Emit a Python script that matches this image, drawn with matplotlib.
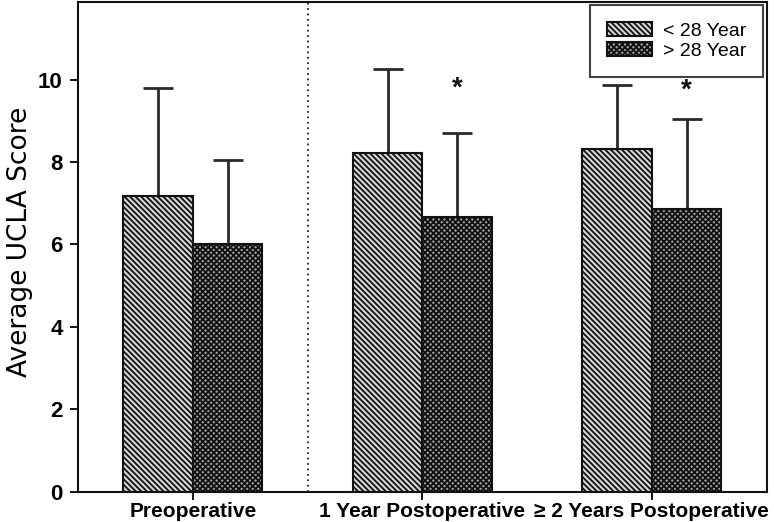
import matplotlib
matplotlib.use("Agg")
import matplotlib.pyplot as plt
import numpy as np

categories = ["Preoperative", "1 Year Postoperative", "\u2265 2 Years Postoperative"]
series_names = ["< 28 Year", "> 28 Year"]
young_mean = [7.17, 8.22, 8.31]
young_sd = [2.64, 2.03, 1.56]
old_mean = [6.0, 6.67, 6.87]
old_sd = [2.06, 2.04, 2.17]
star_groups = [1, 2]
star_y = [9.79, 9.73]
yticks = [0, 2, 4, 6, 8, 10]

plt.rcParams['font.family'] = ['Liberation Sans', 'DejaVu Sans']
plt.rcParams['hatch.linewidth'] = 1.3

fig = plt.figure(figsize=(7.74, 5.22), dpi=100)
ax = fig.add_axes([78/774, 1 - 491.5/522, (766.7-78)/774, (491.5-1.5)/522])

x = np.arange(len(categories))
w = 0.303
b1 = ax.bar(x - w/2, young_mean, w, facecolor='#d6d6d6', edgecolor='#111111',
            hatch='\\' * 6, linewidth=1.5, label=series_names[0], zorder=2)
b2 = ax.bar(x + w/2, old_mean, w, facecolor='#a0a0a0', edgecolor='#111111',
            hatch='x' * 6, linewidth=1.5, label=series_names[1], zorder=2)

ax.errorbar(x - w/2, young_mean, yerr=[np.zeros(3), young_sd], fmt='none',
            ecolor='#2a2a2a', elinewidth=2, capsize=11, capthick=2, zorder=1)
ax.errorbar(x + w/2, old_mean, yerr=[np.zeros(3), old_sd], fmt='none',
            ecolor='#2a2a2a', elinewidth=2, capsize=11, capthick=2, zorder=1)

for g, yy in zip(star_groups, star_y):
    ax.text(g + w/2, yy, '*', ha='center', va='center', fontsize=20,
            fontweight='bold', color='#111111')

ax.axvline(0.5, color='#222222', linestyle=(0, (1, 2)), linewidth=1.3, zorder=0)

ax.set_xlim(-0.5, 2.5)
ax.set_ylim(0, 11.9)
ax.set_yticks(yticks)
ax.set_yticklabels([str(t) for t in yticks], fontsize=16, fontweight='bold')
ax.set_xticks(x)
ax.set_xticklabels(categories, fontsize=15, fontweight='bold')
ax.tick_params(axis='y', length=6, width=1.3, pad=5, right=False)
ax.tick_params(axis='x', length=6, width=1.3, pad=1.5, top=False)
for s in ax.spines.values():
    s.set_linewidth(1.5)
    s.set_color('#111111')

ax.set_ylabel("Average UCLA Score", fontsize=19, family=['DejaVu Sans'])
ax.yaxis.set_label_coords(-0.066, 0.509)

leg = ax.legend(loc='upper right', fontsize=14, frameon=True, fancybox=False,
                edgecolor='#111111', borderaxespad=0.2, borderpad=0.85,
                labelspacing=0.15, handlelength=2.35, handleheight=0.7,
                handletextpad=0.55)
leg.get_frame().set_linewidth(1.5)

fig.savefig("out.png", dpi=100)
